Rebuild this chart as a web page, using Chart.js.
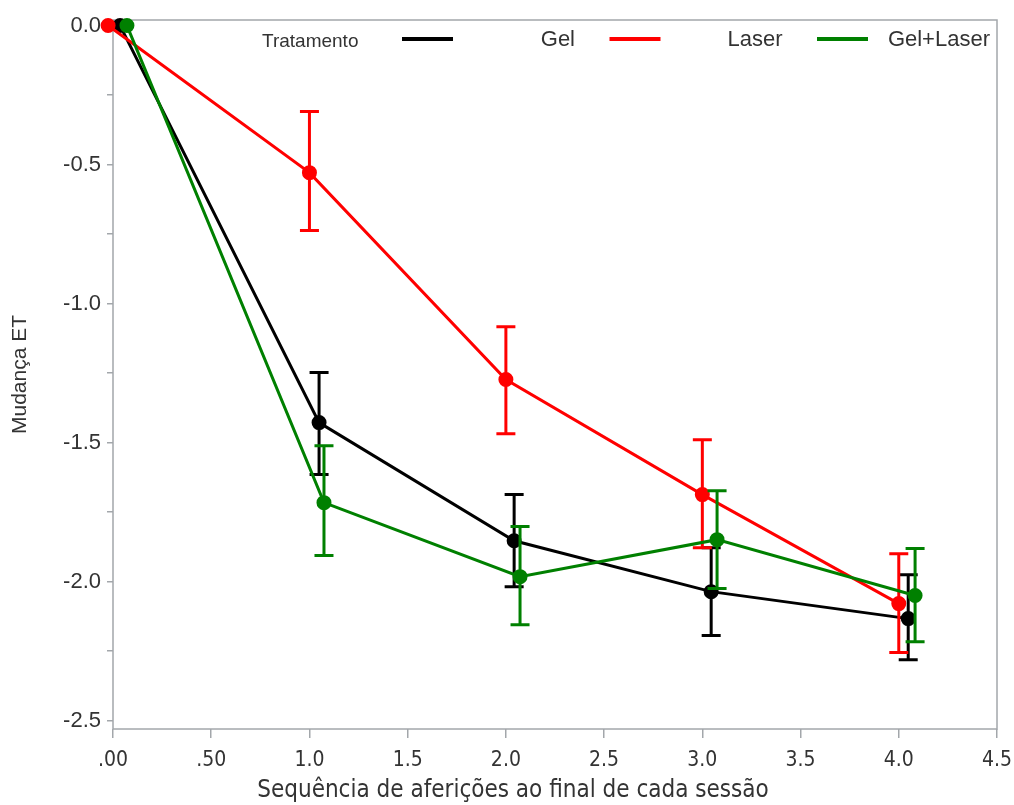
<!DOCTYPE html>
<html>
<head>
<meta charset="utf-8">
<script src="https://cdn.jsdelivr.net/npm/chart.js@4.4.0/dist/chart.umd.min.js"></script>
<style>
  body { margin: 0; background: #fff; }
  #wrap { width: 1014px; height: 805px; }
</style>
</head>
<body>
<div id="wrap"><canvas id="myChart" width="1014" height="805"></canvas></div>
<script>
// series (x is slightly shifted per group, as in the original)
const seriesNames = ['Gel', 'Laser', 'Gel+Laser'];
const seriesColors = ['#000000', '#ff0000', '#008000'];

const gelX = [0.036, 1.049, 2.042, 3.045, 4.048];
const gelMean = [0, -1.428, -1.853, -2.036, -2.133];
const gelLow = [0, -1.615, -2.018, -2.194, -2.281];
const gelHigh = [0, -1.248, -1.687, -1.878, -1.975];

const laserX = [-0.025, 1.0, 2.0, 3.0, 4.0];
const laserMean = [0, -0.529, -1.273, -1.687, -2.079];
const laserLow = [0, -0.737, -1.468, -1.878, -2.255];
const laserHigh = [0, -0.309, -1.083, -1.49, -1.90];

const comboX = [0.071, 1.074, 2.072, 3.075, 4.083];
const comboMean = [0, -1.716, -1.982, -1.849, -2.05];
const comboLow = [0, -1.906, -2.155, -2.025, -2.216];
const comboHigh = [0, -1.511, -1.802, -1.673, -1.881];

const xTickValues = [0, 0.5, 1, 1.5, 2, 2.5, 3, 3.5, 4, 4.5];
const xTickLabels = ['.00', '.50', '1.0', '1.5', '2.0', '2.5', '3.0', '3.5', '4.0', '4.5'];
const yTickValues = [0, -0.25, -0.5, -0.75, -1, -1.25, -1.5, -1.75, -2, -2.25, -2.5];
const yTickLabels = ['0.0', '', '-0.5', '', '-1.0', '', '-1.5', '', '-2.0', '', '-2.5'];

const xTitle = 'Sequência de aferições ao final de cada sessão';
const yTitle = 'Mudança ET';
const legendTitle = 'Tratamento';

const axisGray = '#a3a7ab';
const textGray = '#333333';

function points(xs, ys) {
    let out = [];
    for (let i = 0; i < xs.length; i++) {
        out.push({x: xs[i], y: ys[i]});
    }
    return out;
}

function makeSet(i, xs, ys, lows, highs, order) {
    return {
        label: seriesNames[i],
        data: points(xs, ys),
        low: lows,
        high: highs,
        borderColor: seriesColors[i],
        backgroundColor: seriesColors[i],
        borderWidth: 3,
        pointRadius: 6,
        pointHoverRadius: 6,
        showLine: true,
        tension: 0,
        clip: false,
        order: order
    };
}

//vertical error bars with caps, drawn right after each series
const errorBars = {
    id: 'errorBars',
    afterDatasetDraw(chart, args) {
        const ds = chart.data.datasets[args.index];
        const meta = args.meta;
        const ctx = chart.ctx;
        const yScale = chart.scales.y;
        ctx.save();
        ctx.strokeStyle = ds.borderColor;
        ctx.lineWidth = 3;
        for (let i = 0; i < meta.data.length; i++) {
            if (ds.low[i] === ds.high[i]) continue;
            const px = meta.data[i].x;
            const yl = yScale.getPixelForValue(ds.low[i]);
            const yh = yScale.getPixelForValue(ds.high[i]);
            ctx.beginPath();
            ctx.moveTo(px, yl); ctx.lineTo(px, yh);
            ctx.moveTo(px - 9.5, yl); ctx.lineTo(px + 9.5, yl);
            ctx.moveTo(px - 9.5, yh); ctx.lineTo(px + 9.5, yh);
            ctx.stroke();
        }
        ctx.restore();
    }
};

//frame round the plot, x title, and the legend inside the plot
const frameAndLegend = {
    id: 'frameAndLegend',
    beforeDatasetsDraw(chart) {
        const a = chart.chartArea;
        const ctx = chart.ctx;
        ctx.save();
        ctx.strokeStyle = axisGray;
        ctx.lineWidth = 1.5;
        ctx.strokeRect(a.left, a.top, a.right - a.left, a.bottom - a.top);
        ctx.fillStyle = textGray;
        ctx.textAlign = 'center';
        ctx.textBaseline = 'middle';
        ctx.font = '24px "DejaVu Sans Condensed", "Liberation Sans Narrow", sans-serif';
        ctx.fillText(xTitle, 513, a.bottom + 62);
        ctx.restore();
    },
    afterDraw(chart) {
        const a = chart.chartArea;
        const ctx = chart.ctx;
        const y = a.top + 20;
        ctx.save();
        ctx.textBaseline = 'middle';
        ctx.fillStyle = textGray;
        ctx.font = '19px "Liberation Sans", Arial, sans-serif';
        ctx.textAlign = 'left';
        ctx.fillText(legendTitle, a.left + 149, y + 2);
        ctx.font = '22px "Liberation Sans", Arial, sans-serif';
        ctx.textAlign = 'right';
        chart.data.datasets.forEach((ds, i) => {
            const x0 = a.left + 289 + i * 207.5;
            ctx.strokeStyle = ds.borderColor;
            ctx.lineWidth = 4;
            ctx.beginPath();
            ctx.moveTo(x0, y - 1);
            ctx.lineTo(x0 + 51, y - 1);
            ctx.stroke();
            ctx.fillText(ds.label, x0 + 173, y);
        });
        ctx.restore();
    }
};

var ctx = document.getElementById('myChart').getContext('2d');
var myChart = new Chart(ctx, {
    type: 'scatter',
    data: {
        datasets: [
            makeSet(0, gelX, gelMean, gelLow, gelHigh, 3),
            makeSet(1, laserX, laserMean, laserLow, laserHigh, 2),
            makeSet(2, comboX, comboMean, comboLow, comboHigh, 1)
        ]
    },
    options: {
        responsive: false,
        animation: false,
        layout: { padding: { top: 20, right: 17, left: 0, bottom: 0 } },
        plugins: {
            legend: { display: false },
            tooltip: { enabled: false }
        },
        scales: {
            x: {
                type: 'linear',
                min: 0,
                max: 4.5,
                afterBuildTicks: (scale) => { scale.ticks = xTickValues.map(v => ({value: v})); },
                afterFit: (scale) => { scale.height = 76; scale.paddingLeft = 0; scale.paddingRight = 0; },
                ticks: {
                    color: textGray,
                    padding: 10,
                    font: { family: '"DejaVu Sans Condensed", "Liberation Sans Narrow", sans-serif', size: 21 },
                    callback: (v) => xTickLabels[xTickValues.indexOf(v)],
                    maxRotation: 0,
                    autoSkip: false
                },
                grid: { drawOnChartArea: false, drawTicks: true, tickLength: 9, color: axisGray, lineWidth: 1.5 },
                border: { display: false }
            },
            y: {
                type: 'linear',
                min: -2.53,
                max: 0.02,
                afterBuildTicks: (scale) => { scale.ticks = yTickValues.map(v => ({value: v})); },
                afterFit: (scale) => { scale.width = 113; },
                ticks: {
                    color: textGray,
                    padding: 6,
                    font: { family: '"Liberation Sans", Arial, sans-serif', size: 22 },
                    callback: (v) => yTickLabels[yTickValues.indexOf(v)],
                    autoSkip: false
                },
                grid: { drawOnChartArea: false, drawTicks: true, tickLength: 6, color: axisGray, lineWidth: 1.5 },
                border: { display: false },
                title: {
                    display: true,
                    text: yTitle,
                    color: textGray,
                    font: { family: '"Liberation Sans", Arial, sans-serif', size: 21 },
                    padding: { top: 8, bottom: 0 }
                }
            }
        }
    },
    plugins: [errorBars, frameAndLegend]
});
</script>
</body>
</html>
